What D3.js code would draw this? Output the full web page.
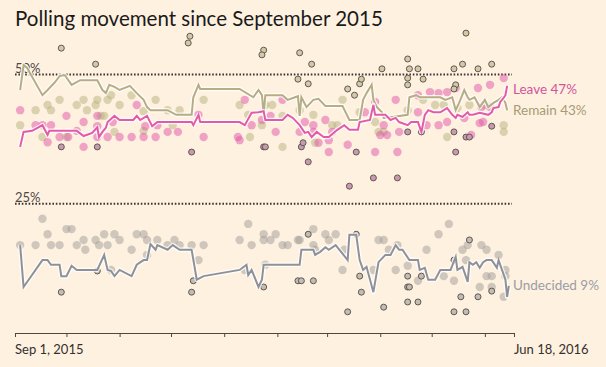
<!DOCTYPE html>
<html><head><meta charset="utf-8">
<script src="https://cdn.jsdelivr.net/npm/d3@7"></script>
<style>
html,body{margin:0;padding:0;background:#fff1e0;}
svg{display:block;font-family:Lato,"Open Sans",sans-serif;}
</style></head>
<body><svg id="c" width="606" height="367"></svg>
<script>
// ---- data (day offsets from Sep 1, 2015; values in %) ----
const startDate = "2015-09-01";
const endDate = "2016-06-18";
const titleText = "Polling movement since September 2015";
const refLines = [50, 25];
const startLabel = "Sep 1, 2015";
const endLabel = "Jun 18, 2016";
const seriesNames = ["Leave", "Remain", "Undecided"];
const seriesFinal = [47, 43, 9];

const leaveLine = [[3,36.0],[5,38.9],[10,39.1],[16,40.2],[19,38.3],[20,39.1],[36,39.1],[40,38.1],[45,38.7],[48,39.8],[49,37.9],[51,38.9],[53,39.7],[54,40.8],[58,42.0],[61,41.2],[69,41.2],[71,42.0],[73,41.2],[77,42.0],[80,40.0],[83,40.8],[103,40.8],[104,40.2],[107,42.2],[108,40.8],[131,40.8],[134,40.2],[138,42.6],[142,42.7],[145,42.9],[146,41.2],[156,41.2],[159,42.2],[162,41.6],[166,40.2],[169,38.7],[171,38.9],[173,37.9],[176,38.9],[180,37.9],[183,37.9],[188,39.3],[192,40.2],[195,39.3],[200,39.3],[201,40.8],[207,41.2],[209,44.1],[210,42.2],[216,42.2],[219,41.2],[222,41.6],[224,40.8],[229,40.2],[231,40.8],[235,40.8],[237,38.9],[239,42.2],[241,43.1],[244,42.7],[248,42.7],[252,43.5],[255,42.2],[257,41.6],[258,42.2],[261,41.8],[264,42.7],[265,42.2],[267,42.2],[271,42.6],[276,42.2],[278,42.7],[279,43.5],[282,43.7],[283,44.7],[285,45.5],[286,46.0],[287,47.8]];

const remainLine = [[3,47.0],[5,51.8],[7,51.3],[16,46.0],[19,47.0],[23,48.4],[26,49.7],[29,49.9],[33,48.0],[38,48.9],[48,48.9],[51,47.0],[53,46.4],[55,48.0],[58,47.6],[61,47.0],[67,47.8],[71,46.4],[75,45.1],[77,43.7],[79,43.1],[89,43.1],[94,42.2],[103,42.2],[104,45.6],[107,48.0],[108,47.2],[131,47.2],[139,45.6],[142,47.0],[144,46.0],[145,42.4],[146,46.0],[156,46.0],[159,45.1],[165,45.8],[166,42.0],[167,45.6],[170,43.7],[174,45.1],[177,45.3],[181,43.9],[191,43.9],[195,41.2],[201,41.2],[203,45.1],[205,46.4],[208,48.0],[209,45.1],[211,43.7],[214,42.7],[215,41.6],[220,41.8],[229,42.2],[230,45.6],[234,46.0],[236,45.6],[248,45.6],[251,45.1],[255,45.6],[257,43.1],[259,44.5],[262,47.0],[264,45.6],[265,45.1],[268,45.6],[271,43.7],[274,45.1],[276,43.7],[279,44.5],[282,45.1],[284,45.6],[286,44.5],[287,43.1]];

const undecidedLine = [[3,17.0],[5,8.9],[16,14.1],[19,14.1],[21,13.2],[26,13.2],[27,11.0],[30,11.0],[33,13.0],[36,12.2],[48,12.2],[52,15.1],[54,12.2],[56,12.0],[58,11.0],[61,12.2],[68,11.0],[71,13.2],[75,14.1],[77,14.1],[79,17.2],[82,16.1],[83,17.0],[89,16.1],[92,17.0],[96,16.1],[103,16.1],[106,10.3],[110,11.0],[131,12.2],[135,13.2],[136,11.2],[138,12.2],[142,8.9],[144,10.3],[145,13.2],[166,13.2],[167,16.1],[174,16.1],[175,15.1],[178,15.7],[181,16.6],[183,16.1],[187,17.0],[194,14.1],[195,19.0],[199,19.0],[201,14.1],[203,12.2],[205,12.8],[209,7.9],[212,13.7],[216,15.1],[219,15.1],[222,17.0],[224,16.1],[226,16.1],[230,14.1],[235,14.1],[236,12.2],[239,12.6],[241,10.3],[245,10.3],[248,12.2],[254,12.2],[257,14.7],[258,12.2],[261,12.8],[264,9.9],[265,13.7],[267,13.2],[269,13.7],[271,12.6],[273,13.7],[275,14.1],[278,14.1],[281,12.6],[282,14.1],[284,12.2],[286,10.3],[287,7.0],[288,9.1]];

// individual online polls
const leaveDots = [[3,43.1],[12,40.2],[16,40.2],[21,40.2],[19,36.9],[30,42.0],[26,37.9],[31,37.9],[36,39.1],[40,40.8],[40,36.0],[48,42.0],[48,40.0],[48,37.9],[54,37.9],[57,40.8],[61,37.9],[68,37.9],[71,44.1],[75,37.9],[76,40.0],[82,37.9],[83,40.2],[89,38.9],[95,38.9],[107,42.2],[110,37.9],[130,37.9],[134,45.1],[138,40.2],[144,41.2],[149,42.0],[152,38.9],[156,45.1],[166,38.9],[131,37.3],[169,40.8],[174,40.2],[181,41.2],[174,38.9],[185,38.9],[183,37.3],[177,36.8],[194,36.4],[204,42.7],[210,44.7],[222,45.1],[215,40.2],[217,38.3],[224,38.9],[213,38.3],[183,35.0],[210,35.0],[223,35.0],[235,46.0],[242,46.6],[247,46.4],[252,46.6],[257,47.4],[270,47.4],[277,48.0],[272,43.7],[277,43.7],[285,49.3],[247,40.2],[252,40.8],[262,41.6],[271,40.6],[273,40.8],[266,38.3],[235,42.7],[240,40.2]];
const remainDots = [[3,40.2],[12,43.1],[19,44.1],[21,43.1],[26,45.1],[36,44.1],[40,45.1],[42,43.1],[47,44.1],[48,45.1],[54,45.1],[56,46.0],[61,44.1],[68,46.0],[82,45.1],[16,37.9],[30,37.9],[58,38.9],[75,39.1],[50,42.0],[52,42.0],[75,42.9],[89,43.1],[96,43.1],[92,40.2],[110,45.1],[131,44.1],[136,42.2],[137,37.9],[144,40.2],[146,44.1],[150,44.1],[156,42.0],[156,36.0],[166,43.1],[191,45.1],[174,42.2],[185,40.2],[188,40.2],[210,40.8],[212,38.9],[215,38.9],[175,36.8],[201,42.7],[245,44.1],[250,44.1],[258,43.5],[265,44.1],[274,44.1],[252,37.9],[285,40.2],[285,38.9],[229,43.1],[238,45.1]];
const undecidedDots = [[3,17.0],[12,17.0],[16,22.1],[19,19.1],[21,17.0],[26,17.0],[30,20.1],[33,20.1],[36,17.0],[40,18.0],[41,16.1],[47,18.0],[49,17.0],[52,19.1],[54,17.0],[58,19.1],[61,18.0],[68,16.1],[71,19.1],[75,19.1],[77,18.0],[83,18.0],[89,17.0],[93,18.0],[96,17.0],[103,17.0],[107,14.1],[110,17.0],[131,18.0],[136,21.1],[138,17.0],[145,19.1],[145,18.0],[149,18.0],[152,19.1],[156,17.0],[159,17.0],[165,18.0],[134,12.2],[56,12.2],[77,15.1],[146,13.2],[166,18.0],[174,20.1],[174,17.0],[175,16.1],[181,19.1],[187,19.1],[183,18.0],[192,16.1],[191,12.2],[212,18.0],[215,18.0],[218,16.1],[223,17.0],[222,12.2],[229,13.0],[235,10.1],[240,16.1],[247,19.1],[253,21.1],[250,11.0],[256,10.1],[261,16.1],[264,17.0],[272,17.0],[275,16.1],[275,11.0],[278,11.0],[282,15.1],[286,12.2],[286,11.0],[271,8.9],[278,8.9],[285,7.0],[263,14.1],[209,12.2]];

// individual phone polls (outlined)
const leavePhone = [[27,36.0],[48,36.0],[103,35.0],[145,36.0],[146,36.0],[167,36.0],[168,36.8],[199,35.0],[171,33.1],[229,38.9],[237,38.9],[256,38.9],[263,37.9],[265,37.9],[278,40.0],[257,35.0],[195,28.4],[209,30.0],[223,30.0]];
const remainPhone = [[27,55.1],[47,52.0],[102,57.4],[101,56.1],[145,54.7],[144,53.8],[166,54.2],[165,49.1],[173,52.0],[171,48.2],[194,47.2],[198,46.0],[201,48.2],[202,49.1],[214,51.1],[229,53.0],[230,51.1],[229,49.3],[263,58.0],[235,51.1],[256,51.1],[261,52.0],[270,51.1],[278,52.0],[238,49.1],[229,48.0],[257,48.0],[256,47.2]];
const undecidedPhone = [[27,7.9],[48,12.0],[103,7.9],[104,10.1],[145,8.9],[165,10.1],[167,10.1],[174,10.1],[171,19.1],[194,4.1],[199,19.1],[201,11.0],[202,7.9],[215,5.0],[229,11.0],[229,8.9],[230,8.9],[229,6.0],[235,6.0],[237,11.0],[256,14.1],[256,4.1],[263,4.1],[260,7.0],[265,18.0],[270,7.0],[278,8.1]];

// ---- drawing ----
const svg = d3.select("#c");
const parse = d3.utcParse("%Y-%m-%d");
const t0 = parse(startDate), t1 = parse(endDate);
const toDate = d => d3.utcDay.offset(t0, d);

const x = d3.scaleUtc().domain([t0, t1]).range([15, 514]);
const y = d3.scaleLinear().domain([0, 50]).range([333, 74.5]);

const colors = {
  Leave: {line:"#e25ba9", dot:"rgba(224,90,170,0.52)", phone:"#c99aae", label:"#d0559b"},
  Remain: {line:"#b6ad84", dot:"rgba(185,180,128,0.52)", phone:"#d3c9a4", label:"#a49c74"},
  Undecided: {line:"#8e9197", dot:"rgba(163,159,156,0.52)", phone:"#c2bcb3", label:"#9a9da5"}
};

// title
const title = svg.append("text").attr("x", 15).attr("y", 26)
  .attr("fill", "#1a1a1a").style("font-size", "20px").text(titleText);
const tl = title.node().getComputedTextLength();
title.style("font-size", (20 * 368 / tl).toFixed(2) + "px");

// reference lines
refLines.forEach(v => {
  svg.append("line").attr("x1", 15).attr("x2", 512)
    .attr("y1", y(v)).attr("y2", y(v))
    .attr("stroke", "#3a3532").attr("stroke-width", 2)
    .attr("stroke-dasharray", "1.6,1.8");
  svg.append("text").attr("x", 15).attr("y", y(v) - 1.5)
    .attr("fill", "#4d4845").style("font-size", "13px").text(v + "%");
});

// axis
const ticks = d3.utcMonth.range(t0, t1).concat([t1]);
const ax = svg.append("g").attr("transform", `translate(0,${y(0)})`)
  .call(d3.axisBottom(x).tickValues(ticks).tickSize(4).tickSizeOuter(0).tickFormat(""));
ax.select(".domain").attr("stroke", "#4d4845");
ax.selectAll(".tick line").attr("stroke", "#4d4845");
svg.append("text").attr("x", 15).attr("y", 354).attr("fill", "#33302e")
  .style("font-size", "13px").text(startLabel);
svg.append("text").attr("x", x(t1)).attr("y", 354).attr("fill", "#33302e")
  .style("font-size", "13px").text(endLabel);

// filled dots
const dotSets = [["Remain", remainDots], ["Undecided", undecidedDots], ["Leave", leaveDots]];
dotSets.forEach(([name, arr]) => {
  svg.append("g").selectAll("circle").data(arr).join("circle")
    .attr("cx", d => x(toDate(d[0]))).attr("cy", d => y(d[1])).attr("r", 4.2)
    .attr("fill", colors[name].dot);
});
// phone dots
const phoneSets = [["Remain", remainPhone], ["Undecided", undecidedPhone], ["Leave", leavePhone]];
phoneSets.forEach(([name, arr]) => {
  svg.append("g").selectAll("circle").data(arr).join("circle")
    .attr("cx", d => x(toDate(d[0]))).attr("cy", d => y(d[1])).attr("r", 3)
    .attr("fill", colors[name].phone).attr("stroke", "#5e5954").attr("stroke-width", 1);
});

// lines
const line = d3.line().x(d => x(toDate(d[0]))).y(d => y(d[1]));
const lineSets = [["Undecided", undecidedLine], ["Remain", remainLine], ["Leave", leaveLine]];
lineSets.forEach(([name, arr]) => {
  svg.append("path").datum(arr).attr("d", line).attr("fill", "none")
    .attr("stroke", "rgba(255,255,255,0.8)").attr("stroke-width", 4.5).attr("stroke-linejoin", "round");
  svg.append("path").datum(arr).attr("d", line).attr("fill", "none")
    .attr("stroke", colors[name].line).attr("stroke-width", 2);
});

// end labels
const labelY = {Leave: 94, Remain: 115, Undecided: 290};
seriesNames.forEach((n, i) => {
  svg.append("text").attr("x", 513).attr("y", labelY[n])
    .attr("fill", colors[n].label).style("font-size", "13.5px")
    .text(`${n} ${seriesFinal[i]}%`);
});
</script>
</body></html>
